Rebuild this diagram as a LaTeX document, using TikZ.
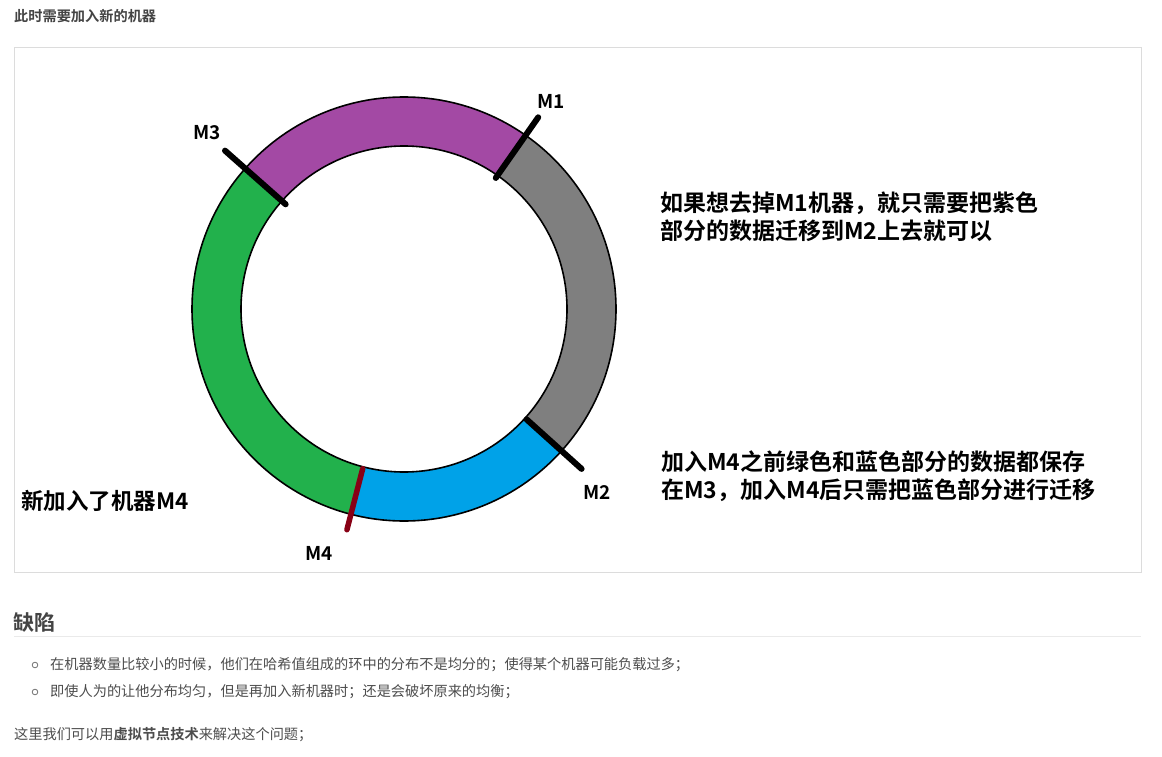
\documentclass[tikz,border=0pt]{standalone}
\usepackage{fontspec}
\setmainfont{Noto Sans CJK SC}[BoldFont={Noto Sans CJK SC Bold}]
\definecolor{ringpurple}{HTML}{A349A4}
\definecolor{ringgray}{HTML}{7F7F7F}
\definecolor{ringgreen}{HTML}{22B14C}
\definecolor{ringblue}{HTML}{00A2E8}
\definecolor{ringred}{HTML}{880015}
\definecolor{framegray}{HTML}{DCDCDC}
\definecolor{rulegray}{HTML}{EAEAEA}
\definecolor{bodytext}{HTML}{4D4D4D}
\definecolor{headtext}{HTML}{444444}
\newcommand\ringsector[3]{%
  \fill[#1] (#2:212pt) arc[start angle=#2,end angle=#3,radius=212pt]
    -- (#3:163pt) arc[start angle=#3,end angle=#2,radius=163pt] -- cycle;}
\begin{document}
\begin{tikzpicture}[x=1pt,y=1pt,
  bodystyle/.style={inner sep=0pt,anchor=west,text=bodytext,font=\fontsize{14.2}{18}\selectfont},
  notestyle/.style={inner sep=0pt,anchor=west,align=left,text=black,font=\bfseries\fontsize{23}{28}\selectfont},
  mlabel/.style={inner sep=0pt,text=black,font=\bfseries\fontsize{19}{22}\selectfont},
  marker/.style={line width=6pt,line cap=round},
  bulletmark/.style={draw=bodytext!80,line width=0.8pt}]
\useasboundingbox (0,0) rectangle (1162,-757);
\fill[white] (0,0) rectangle (1162,-757);
% top line
\node[bodystyle,font=\bfseries\fontsize{14.2}{18}\selectfont,text=headtext] (title) at (14,-16) {此时需要加入新的机器};
% frame
\draw[framegray,line width=1pt] (14,-48) rectangle (1141,-572);
% ring
\begin{scope}[shift={(404pt,-309pt)}]
  \ringsector{ringpurple}{55}{138.5}
  \ringsector{ringgreen}{138.5}{256}
  \ringsector{ringblue}{256}{318}
  \ringsector{ringgray}{318}{415}
  \draw[line width=1.6pt] (0,0) circle[radius=212pt];
  \draw[line width=1.6pt] (0,0) circle[radius=163pt];
  \draw[marker] (55:160pt) -- (55:234pt);
  \draw[marker] (138.5:158pt) -- (138.5:239pt);
  \draw[marker] (318:165pt) -- (318:239pt);
  \draw[marker,ringred,line width=5.5pt] (255.5:165pt) -- (255.5:228pt);
\end{scope}
\node[mlabel] (m1) at (551,-101) {M1};
\node[mlabel] (m3) at (207,-133) {M3};
\node[mlabel] (m2) at (597,-492) {M2};
\node[mlabel] (m4) at (319,-553) {M4};
% notes
\node[notestyle] (note1) at (660,-217) {如果想去掉M1机器，就只需要把紫色\\部分的数据迁移到M2上去就可以};
\node[notestyle] (note2) at (661,-476) {加入M4之前绿色和蓝色部分的数据都保存\\在M3，加入M4后只需把蓝色部分进行迁移};
\node[notestyle,font=\bfseries\fontsize{22.5}{28}\selectfont] (note3) at (21,-501) {新加入了机器M4};
% section
\node[bodystyle,font=\bfseries\fontsize{21}{24}\selectfont,text=headtext] (head) at (13,-622) {缺陷};
\draw[rulegray,line width=1pt] (14,-636) -- (1141,-636);
\draw[bulletmark] (35,-665) circle[radius=2.8pt];
\node[bodystyle] (b1) at (50,-665) {在机器数量比较小的时候，他们在哈希值组成的环中的分布不是均分的；使得某个机器可能负载过多；};
\draw[bulletmark] (35,-692) circle[radius=2.8pt];
\node[bodystyle] (b2) at (50,-692) {即使人为的让他分布均匀，但是再加入新机器时；还是会破坏原来的均衡；};
\node[bodystyle] (last) at (14,-735) {这里我们可以用\textbf{虚拟节点技术}来解决这个问题；};
\end{tikzpicture}
\end{document}
